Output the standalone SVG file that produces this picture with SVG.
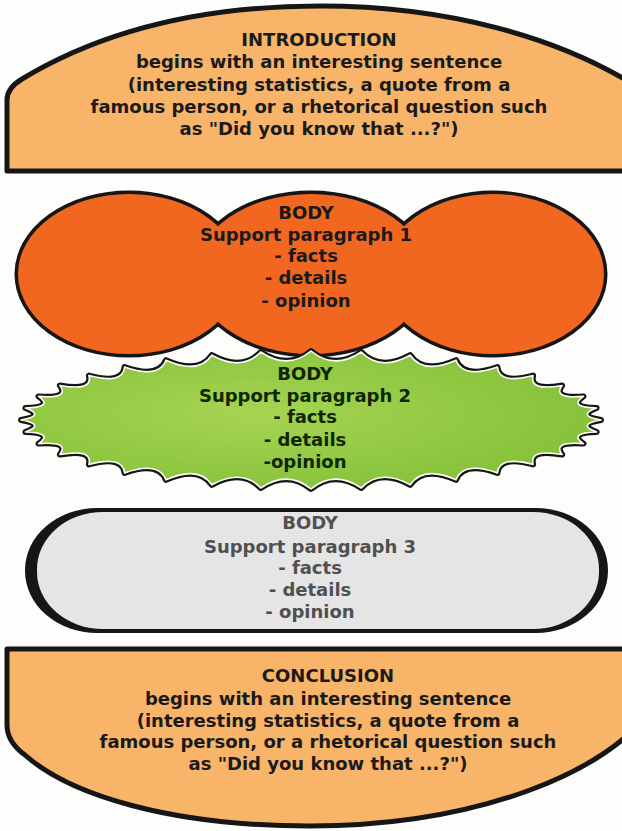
<svg xmlns="http://www.w3.org/2000/svg" width="622" height="831" viewBox="0 0 622 831">
<defs>
<style>
.t{font-family:"DejaVu Sans","Liberation Sans",sans-serif;font-weight:bold;font-size:18px;text-anchor:middle}
.dk{fill:#1a1a1a}
.gr{fill:#0f2600}
.gy{fill:#505050}
.edge{stroke:#161616;stroke-linejoin:round}
</style>
<radialGradient id="gg" cx="0.4" cy="0.45" r="0.6">
<stop offset="0" stop-color="#a6d453"/>
<stop offset="1" stop-color="#86c23a"/>
</radialGradient>
</defs>
<rect width="622" height="831" fill="#fdfdfb"/>

<g id="introduction">
<path class="edge" d="M7 171 L7 100 Q7 88 22 79 C100 32 200 6 320 6 C440 6 560 34 650 95 L650 171 Z" fill="#f8b469" stroke-width="5"/>
<text class="t dk" x="319" y="46">INTRODUCTION</text>
<text class="t dk" x="319" y="68">begins with an interesting sentence</text>
<text class="t dk" x="319" y="91">(interesting statistics, a quote from a</text>
<text class="t dk" x="319" y="113">famous person, or a rhetorical question such</text>
<text class="t dk" x="319" y="135">as "Did you know that ...?")</text>
</g>

<g id="body1">
<ellipse cx="129" cy="274" rx="111" ry="80" fill="#161616" stroke="#161616" stroke-width="7"/>
<ellipse cx="311" cy="274" rx="116" ry="80" fill="#161616" stroke="#161616" stroke-width="7"/>
<ellipse cx="493" cy="274" rx="111" ry="80" fill="#161616" stroke="#161616" stroke-width="7"/>
<ellipse cx="129" cy="274" rx="111" ry="80" fill="#f1671f"/>
<ellipse cx="311" cy="274" rx="116" ry="80" fill="#f1671f"/>
<ellipse cx="493" cy="274" rx="111" ry="80" fill="#f1671f"/>
<text class="t dk" x="306" y="219">BODY</text>
<text class="t dk" x="306" y="241">Support paragraph 1</text>
<text class="t dk" x="306" y="262">- facts</text>
<text class="t dk" x="306" y="284">- details</text>
<text class="t dk" x="306" y="307">- opinion</text>
</g>

<g id="body2">
<path d="M601 420 Q576 424.4 596.6 432 Q567.9 432.9 583.5 443.6 Q552.1 441.1 562.1 454.5 Q528.9 448.7 533.1 464.4 Q499.1 455.4 497.4 472.9 Q463.6 461 456 479.8 Q423.4 465.3 410.2 484.8 Q379.8 468.3 361.3 488 Q334.2 469.8 311 489 Q287.8 469.8 260.7 488 Q242.2 468.3 211.8 484.8 Q198.6 465.3 166 479.8 Q158.4 461 124.6 472.9 Q122.9 455.4 88.9 464.4 Q93.1 448.7 59.9 454.5 Q69.9 441.1 38.5 443.6 Q54.1 432.9 25.4 432 Q46 424.4 21 420 Q46 415.6 25.4 408 Q54.1 407.1 38.5 396.4 Q69.9 398.9 59.9 385.5 Q93.1 391.3 88.9 375.6 Q122.9 384.6 124.6 367.1 Q158.4 379 166 360.2 Q198.6 374.7 211.8 355.2 Q242.2 371.7 260.7 352 Q287.8 370.2 311 351 Q334.2 370.2 361.3 352 Q379.8 371.7 410.2 355.2 Q423.4 374.7 456 360.2 Q463.6 379 497.4 367.1 Q499.1 384.6 533.1 375.6 Q528.9 391.3 562.1 385.5 Q552.1 398.9 583.5 396.4 Q567.9 407.1 596.6 408 Q576 415.6 601 420 Z" fill="#161616" stroke="#161616" stroke-width="6" stroke-linejoin="round"/>
<path d="M601 420 Q576 424.4 596.6 432 Q567.9 432.9 583.5 443.6 Q552.1 441.1 562.1 454.5 Q528.9 448.7 533.1 464.4 Q499.1 455.4 497.4 472.9 Q463.6 461 456 479.8 Q423.4 465.3 410.2 484.8 Q379.8 468.3 361.3 488 Q334.2 469.8 311 489 Q287.8 469.8 260.7 488 Q242.2 468.3 211.8 484.8 Q198.6 465.3 166 479.8 Q158.4 461 124.6 472.9 Q122.9 455.4 88.9 464.4 Q93.1 448.7 59.9 454.5 Q69.9 441.1 38.5 443.6 Q54.1 432.9 25.4 432 Q46 424.4 21 420 Q46 415.6 25.4 408 Q54.1 407.1 38.5 396.4 Q69.9 398.9 59.9 385.5 Q93.1 391.3 88.9 375.6 Q122.9 384.6 124.6 367.1 Q158.4 379 166 360.2 Q198.6 374.7 211.8 355.2 Q242.2 371.7 260.7 352 Q287.8 370.2 311 351 Q334.2 370.2 361.3 352 Q379.8 371.7 410.2 355.2 Q423.4 374.7 456 360.2 Q463.6 379 497.4 367.1 Q499.1 384.6 533.1 375.6 Q528.9 391.3 562.1 385.5 Q552.1 398.9 583.5 396.4 Q567.9 407.1 596.6 408 Q576 415.6 601 420 Z" fill="url(#gg)" stroke="#ffffff" stroke-width="1.6" stroke-linejoin="round"/>
<text class="t gr" x="305" y="380">BODY</text>
<text class="t gr" x="305" y="402">Support paragraph 2</text>
<text class="t gr" x="305" y="423">- facts</text>
<text class="t gr" x="305" y="446">- details</text>
<text class="t gr" x="305" y="468">-opinion</text>
</g>

<g id="body3">
<rect x="25" y="508" width="583" height="125" rx="72" ry="62" fill="#161616"/>
<rect x="37" y="512" width="562" height="117" rx="66" ry="57" fill="#e5e5e5"/>
<text class="t gy" x="310" y="529">BODY</text>
<text class="t gy" x="310" y="553">Support paragraph 3</text>
<text class="t gy" x="310" y="574">- facts</text>
<text class="t gy" x="310" y="596">- details</text>
<text class="t gy" x="310" y="618">- opinion</text>
</g>

<g id="conclusion">
<path class="edge" d="M7 649 L650 649 L650 710 C610 770 480 826 310 826 C170 826 70 795 25 755 Q7 742 7 725 Z" fill="#f8b469" stroke-width="5"/>
<text class="t dk" x="328" y="682">CONCLUSION</text>
<text class="t dk" x="328" y="705">begins with an interesting sentence</text>
<text class="t dk" x="328" y="727">(interesting statistics, a quote from a</text>
<text class="t dk" x="328" y="748">famous person, or a rhetorical question such</text>
<text class="t dk" x="328" y="770">as "Did you know that ...?")</text>
</g>

<g id="connectors"/>
</svg>
